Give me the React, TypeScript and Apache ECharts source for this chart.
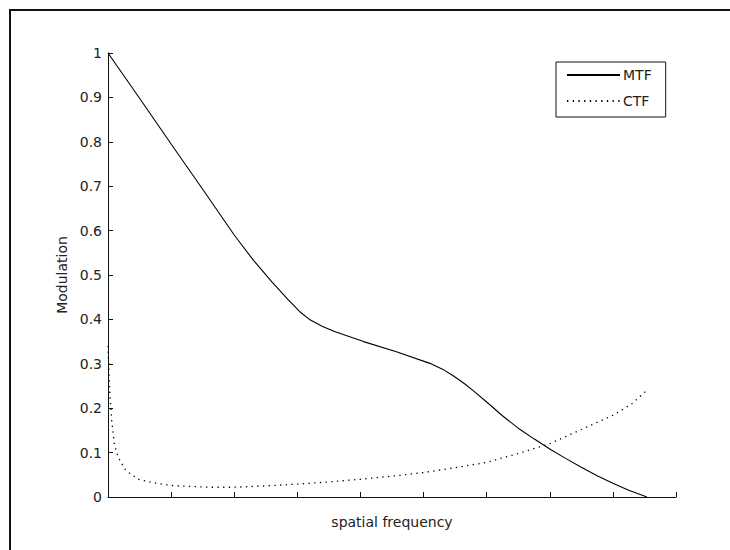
import React, { useEffect, useRef } from "react";
import * as echarts from "echarts";

// spatial frequency (tick units, 0..9) and modulation values
const mtfX = [0, 0.5, 1.0, 1.5, 2.0, 2.3, 2.6, 2.85, 3.05, 3.2, 3.4, 3.6, 4.05, 4.57, 5.1, 5.3, 5.47, 5.65, 5.8, 6.0, 6.25, 6.5, 6.75, 7.0, 7.25, 7.5, 7.75, 8.0, 8.25, 8.54];
const mtfY = [1.0, 0.898, 0.795, 0.693, 0.59, 0.534, 0.484, 0.445, 0.416, 0.399, 0.384, 0.372, 0.35, 0.327, 0.301, 0.288, 0.273, 0.255, 0.238, 0.214, 0.183, 0.155, 0.131, 0.108, 0.087, 0.067, 0.048, 0.031, 0.015, 0.0];

const ctfX = [0, 0.015, 0.03, 0.06, 0.1, 0.16, 0.28, 0.48, 0.72, 1.0, 1.6, 2.0, 2.5, 3.0, 3.5, 4.0, 4.5, 5.0, 5.5, 6.0, 6.5, 7.0, 7.5, 8.0, 8.3, 8.56];
const ctfY = [0.34, 0.28, 0.23, 0.17, 0.12, 0.09, 0.06, 0.04, 0.032, 0.026, 0.022, 0.022, 0.025, 0.029, 0.034, 0.04, 0.047, 0.055, 0.066, 0.078, 0.098, 0.12, 0.152, 0.184, 0.21, 0.243];

const yTicks = [0, 0.1, 0.2, 0.3, 0.4, 0.5, 0.6, 0.7, 0.8, 0.9, 1];
const seriesNames = ["MTF", "CTF"];
const xAxisTitle = "spatial frequency";
const yAxisTitle = "Modulation";

const FONT = "DejaVu Sans";
const TEXT = "#222222";

export default function App() {
  const ref = useRef<HTMLDivElement>(null);
  useEffect(() => {
    document.body.style.margin = "0";
    if (!ref.current) return;
    const chart = echarts.init(ref.current, undefined, { renderer: "svg" });
    const pair = (xs: number[], ys: number[]) => xs.map((x, i) => [x, ys[i]]);
    chart.setOption({
      animation: false,
      backgroundColor: "#ffffff",
      grid: { left: 108, right: 54, top: 53, bottom: 53, containLabel: false },
      xAxis: {
        type: "value",
        min: 0,
        max: 9,
        interval: 1,
        name: xAxisTitle,
        nameLocation: "middle",
        nameGap: 18,
        nameTextStyle: { fontFamily: FONT, fontSize: 14, color: TEXT },
        axisLine: { show: true, lineStyle: { color: "#111", width: 1 } },
        axisTick: { show: true, inside: true, length: 5, lineStyle: { color: "#111" } },
        axisLabel: { show: false },
        splitLine: { show: false },
      },
      yAxis: {
        type: "value",
        min: 0,
        max: 1,
        interval: 0.1,
        name: yAxisTitle,
        nameLocation: "middle",
        nameGap: 38,
        nameTextStyle: { fontFamily: FONT, fontSize: 14, color: TEXT },
        axisLine: { show: true, lineStyle: { color: "#111", width: 1 } },
        axisTick: { show: true, inside: true, length: 5, lineStyle: { color: "#111" } },
        axisLabel: {
          show: true,
          margin: 6,
          fontFamily: FONT,
          fontSize: 14,
          color: TEXT,
          formatter: (v: number) => {
            const t = yTicks.find((k) => Math.abs(k - v) < 1e-6);
            return t === undefined ? "" : String(t);
          },
        },
        splitLine: { show: false },
      },
      legend: {
        show: true,
        orient: "vertical",
        left: 556,
        top: 62,
        data: seriesNames,
        itemWidth: 53,
        itemHeight: 14,
        itemGap: 12,
        padding: [6, 14, 9, 10],
        borderColor: "#111",
        borderWidth: 1,
        borderRadius: 0,
        backgroundColor: "#fff",
        itemStyle: { color: "transparent", borderColor: "transparent", borderWidth: 0, opacity: 0 },
        textStyle: { fontFamily: FONT, fontSize: 14, color: TEXT, padding: [0, 0, 0, -2] },
        selectedMode: false,
      },
      series: [
        {
          name: seriesNames[0],
          type: "line",
          data: pair(mtfX, mtfY),
          symbol: "none",
          smooth: false,
          lineStyle: { color: "#000", width: 1.1, type: "solid" },
          itemStyle: { color: "#000" },
        },
        {
          name: seriesNames[1],
          type: "line",
          data: pair(ctfX, ctfY),
          symbol: "none",
          smooth: false,
          lineStyle: { color: "#000", width: 1.3, type: [1.3, 4.4] },
          itemStyle: { color: "#000" },
        },
      ],
      graphic: [
        {
          type: "polyline",
          silent: true,
          shape: { points: [[10, 560], [10, 10], [740, 10]] },
          style: { stroke: "#111", lineWidth: 2, fill: "none" },
        },
      ],
    });
    return () => chart.dispose();
  }, []);
  return <div ref={ref} style={{ width: 730, height: 550 }} />;
}
